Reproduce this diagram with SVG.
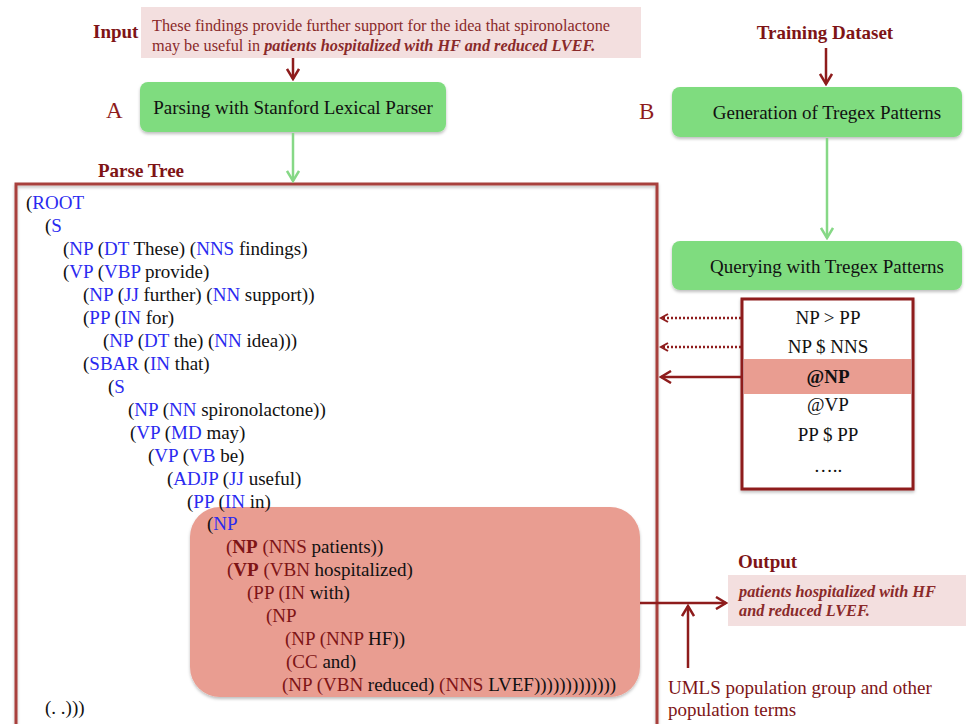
<svg xmlns="http://www.w3.org/2000/svg" width="966" height="724" viewBox="0 0 966 724" font-family="'Liberation Serif', 'Times New Roman', serif">
  <defs>
    <style>
      text { font-family: "Liberation Serif", "Times New Roman", serif; }
      .hd { font-weight: bold; fill: #7e1416; font-size: 19px; }
      .letter { fill: #8e1c1c; font-size: 23px; }
      .step { fill: #7fdc7f; }
      .step-t { font-size: 19px; fill: #111; text-anchor: middle; }
      .tree { font-size: 19px; fill: #111; }
      .l { fill: #2a2af0; }
      .r { fill: #7e1416; }
      .rb { fill: #7e1416; font-weight: bold; }
      .pat { font-size: 19px; fill: #111; text-anchor: middle; }
      .note { fill: #f3dfdf; }
      .red { stroke: #8e1c1c; fill: none; }
    </style>
    <marker id="ahRed" viewBox="0 0 10 10" refX="8" refY="5" markerWidth="10" markerHeight="10" markerUnits="userSpaceOnUse" orient="auto">
      <path d="M1,1 L8,5 L1,9" fill="none" stroke="#8e1c1c" stroke-width="2"/>
    </marker>
    <marker id="ahRedBig" viewBox="0 0 14 14" refX="12" refY="7" markerWidth="14" markerHeight="14" markerUnits="userSpaceOnUse" orient="auto">
      <path d="M2,1 L12,7 L2,13" fill="none" stroke="#8e1c1c" stroke-width="2.5"/>
    </marker>
    <marker id="ahGreen" viewBox="0 0 14 14" refX="12" refY="7" markerWidth="14" markerHeight="14" markerUnits="userSpaceOnUse" orient="auto">
      <path d="M2,1 L12,7 L2,13" fill="none" stroke="#86d886" stroke-width="2.5"/>
    </marker>
    <filter id="sh" x="-5%" y="-5%" width="110%" height="115%">
      <feDropShadow dx="0" dy="2" stdDeviation="1.5" flood-color="#000" flood-opacity="0.25"/>
    </filter>
  </defs>

  <!-- input sentence -->
  <g id="input">
    <text class="hd" x="93" y="38">Input</text>
    <rect class="note" x="141" y="7" width="500" height="51"/>
    <text x="152" y="31" font-size="16.3" fill="#8a2a2a">These findings provide further support for the idea that spironolactone</text>
    <text x="152" y="51" font-size="16.3" fill="#8a2a2a">may be useful in <tspan font-weight="bold" font-style="italic">patients hospitalized with HF and reduced LVEF.</tspan></text>
  </g>

  <!-- step A -->
  <g id="stepA">
    <text class="letter" x="106" y="118">A</text>
    <rect class="step" x="140" y="82" width="306" height="50" rx="8" filter="url(#sh)"/>
    <text class="step-t" x="293" y="114">Parsing with Stanford Lexical Parser</text>
  </g>

  <!-- step B -->
  <g id="training">
    <text class="hd" x="825" y="39" text-anchor="middle">Training Dataset</text>
  </g>
  <g id="stepB">
    <text class="letter" x="639" y="119">B</text>
    <rect class="step" x="672" y="87" width="290" height="50" rx="8" filter="url(#sh)"/>
    <text class="step-t" x="827" y="119">Generation of Tregex Patterns</text>
  </g>
  <g id="query">
    <rect class="step" x="672" y="241" width="290" height="49" rx="8" filter="url(#sh)"/>
    <text class="step-t" x="827" y="273">Querying with Tregex Patterns</text>
  </g>

  <!-- parse tree -->
  <g id="parseTree">
    <text class="hd" x="98" y="177">Parse Tree</text>
    <path d="M16,730 V184 H657 V730" fill="none" stroke="#a8403c" stroke-width="3" filter="url(#sh)"/>
    <rect x="190" y="507" width="450" height="190" rx="30" fill="#e99d91" filter="url(#sh)"/>
    <g class="tree">
      <text x="26" y="209">(<tspan class="l">ROOT</tspan></text>
      <text x="45" y="232">(<tspan class="l">S</tspan></text>
      <text x="63" y="255">(<tspan class="l">NP</tspan> (<tspan class="l">DT</tspan> These) (<tspan class="l">NNS</tspan> findings)</text>
      <text x="63" y="278">(<tspan class="l">VP</tspan> (<tspan class="l">VBP</tspan> provide)</text>
      <text x="83" y="301">(<tspan class="l">NP</tspan> (<tspan class="l">JJ</tspan> further) (<tspan class="l">NN</tspan> support))</text>
      <text x="83" y="324">(<tspan class="l">PP</tspan> (<tspan class="l">IN</tspan> for)</text>
      <text x="103" y="347">(<tspan class="l">NP</tspan> (<tspan class="l">DT</tspan> the) (<tspan class="l">NN</tspan> idea)))</text>
      <text x="83" y="370">(<tspan class="l">SBAR</tspan> (<tspan class="l">IN</tspan> that)</text>
      <text x="108" y="393">(<tspan class="l">S</tspan></text>
      <text x="128" y="416">(<tspan class="l">NP</tspan> (<tspan class="l">NN</tspan> spironolactone))</text>
      <text x="130" y="439">(<tspan class="l">VP</tspan> (<tspan class="l">MD</tspan> may)</text>
      <text x="148" y="462">(<tspan class="l">VP</tspan> (<tspan class="l">VB</tspan> be)</text>
      <text x="167" y="485">(<tspan class="l">ADJP</tspan> (<tspan class="l">JJ</tspan> useful)</text>
      <text x="187" y="508">(<tspan class="l">PP</tspan> (<tspan class="l">IN</tspan> in)</text>
      <text x="207" y="530">(<tspan class="l">NP</tspan></text>
      <text x="226" y="553"><tspan class="r">(</tspan><tspan class="rb">NP</tspan> <tspan class="r">(NNS</tspan> patients))</text>
      <text x="227" y="576"><tspan class="r">(</tspan><tspan class="rb">VP</tspan> <tspan class="r">(VBN</tspan> hospitalized)</text>
      <text x="247" y="599"><tspan class="r">(PP (IN</tspan> with)</text>
      <text x="266" y="622"><tspan class="r">(NP</tspan></text>
      <text x="285" y="645"><tspan class="r">(NP (NNP</tspan> HF))</text>
      <text x="286" y="668"><tspan class="r">(CC</tspan> and)</text>
      <text x="282" y="691"><tspan class="r">(NP (VBN</tspan> reduced) <tspan class="r">(NNS</tspan> LVEF)))))))))))))</text>
      <text x="45" y="714">(. .)))</text>
    </g>
  </g>

  <!-- tregex patterns -->
  <g id="patterns">
    <rect x="742" y="299" width="171" height="190" fill="#fff" stroke="#8e1c1c" stroke-width="3" filter="url(#sh)"/>
    <rect x="744" y="359" width="167" height="35" fill="#e99d91"/>
    <text class="pat" x="828" y="324">NP &gt; PP</text>
    <text class="pat" x="828" y="353">NP $ NNS</text>
    <text class="pat" x="828" y="383" fill="#7e1416" font-weight="bold">@NP</text>
    <text class="pat" x="828" y="411">@VP</text>
    <text class="pat" x="828" y="441">PP $ PP</text>
    <text class="pat" x="828" y="472">…..</text>
  </g>

  <!-- output -->
  <g id="output">
    <text class="hd" x="738" y="568">Output</text>
    <rect class="note" x="728" y="575" width="238" height="51"/>
    <text x="739" y="597" font-size="16.3" fill="#8a2a2a" font-weight="bold" font-style="italic">patients hospitalized with HF</text>
    <text x="739" y="616" font-size="16.3" fill="#8a2a2a" font-weight="bold" font-style="italic">and reduced LVEF.</text>
  </g>

  <g id="umls">
    <text x="668" y="694" font-size="19" fill="#7e1416">UMLS population group and other</text>
    <text x="668" y="716" font-size="19" fill="#7e1416">population terms</text>
  </g>

  <!-- connectors -->
  <g id="connectors">
    <line class="red" x1="293" y1="58" x2="293" y2="79" stroke-width="2.5" marker-end="url(#ahRedBig)"/>
    <line x1="293" y1="133" x2="293" y2="181" stroke="#86d886" stroke-width="2.5" marker-end="url(#ahGreen)"/>
    <line class="red" x1="826" y1="48" x2="826" y2="84" stroke-width="2.5" marker-end="url(#ahRedBig)"/>
    <line x1="827" y1="138" x2="827" y2="238" stroke="#86d886" stroke-width="2.5" marker-end="url(#ahGreen)"/>
    <line class="red" x1="741" y1="318" x2="661" y2="318" stroke-width="2.5" stroke-dasharray="2 2" marker-end="url(#ahRed)"/>
    <line class="red" x1="741" y1="347" x2="661" y2="347" stroke-width="2.5" stroke-dasharray="2 2" marker-end="url(#ahRed)"/>
    <line class="red" x1="742" y1="377" x2="661" y2="377" stroke-width="2.5" marker-end="url(#ahRedBig)"/>
    <line class="red" x1="640" y1="603" x2="726" y2="603" stroke-width="2.5" marker-end="url(#ahRedBig)"/>
    <line class="red" x1="688" y1="668" x2="688" y2="606" stroke-width="2.5" marker-end="url(#ahRedBig)"/>
  </g>
</svg>
